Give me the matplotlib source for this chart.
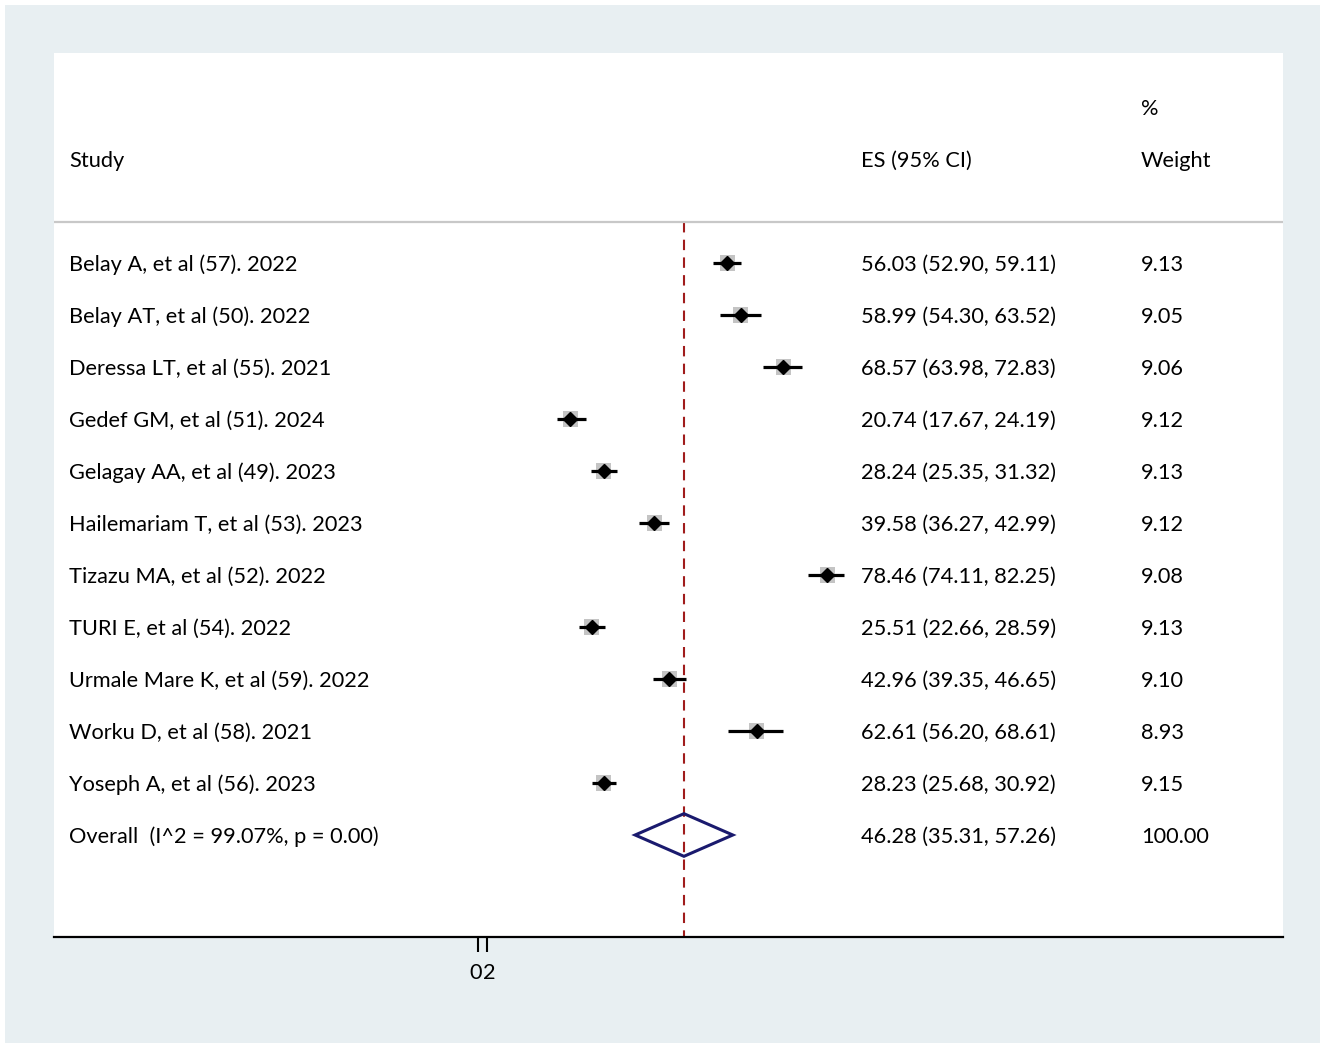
import matplotlib
matplotlib.use("Agg")
import matplotlib.pyplot as plt
from matplotlib.patches import Rectangle, Polygon
from matplotlib.transforms import ScaledTranslation

studies = ["Belay A, et al (57). 2022", "Belay AT, et al (50). 2022", "Deressa LT, et al (55). 2021",
           "Gedef GM, et al (51). 2024", "Gelagay AA, et al (49). 2023", "Hailemariam T, et al (53). 2023",
           "Tizazu MA, et al (52). 2022", "TURI E, et al (54). 2022", "Urmale Mare K, et al (59). 2022",
           "Worku D, et al (58). 2021", "Yoseph A, et al (56). 2023"]
es = [56.03, 58.99, 68.57, 20.74, 28.24, 39.58, 78.46, 25.51, 42.96, 62.61, 28.23]
lo = [52.90, 54.30, 63.98, 17.67, 25.35, 36.27, 74.11, 22.66, 39.35, 56.20, 25.68]
hi = [59.11, 63.52, 72.83, 24.19, 31.32, 42.99, 82.25, 28.59, 46.65, 68.61, 30.92]
weights = [9.13, 9.05, 9.06, 9.12, 9.13, 9.12, 9.08, 9.13, 9.10, 8.93, 9.15]
overall_label = "Overall  (I^2 = 99.07%, p = 0.00)"
overall_es, overall_lo, overall_hi, overall_w = 46.28, 35.31, 57.26, 100.00
xticks = [0, 2]

W, H = 1325, 1048
plt.rcParams['font.family'] = ['Lato', 'DejaVu Sans']
fig = plt.figure(figsize=(W / 100, H / 100), dpi=100)
fig.patch.set_facecolor('white')
fig.add_artist(Rectangle((5 / W, 5 / H), 1315 / W, 1038 / H, transform=fig.transFigure,
                         facecolor='#e8eff2', edgecolor='none', zorder=-10))

left, right, top, bottom = 54, 1283, 53, 937
ax = fig.add_axes([left / W, (H - bottom) / H, (right - left) / W, (bottom - top) / H])
ax.set_facecolor('white')

x0, scale = 478.0, 4.45
ax.set_xlim((left - x0) / scale, (right - x0) / scale)
row0, rowh = 263.0, 52.0
ax.set_ylim((bottom - row0) / rowh, (top - row0) / rowh)

fs = 15.7
for s in ['top', 'left', 'right']:
    ax.spines[s].set_visible(False)
ax.spines['bottom'].set_linewidth(1.6)
ax.set_yticks([])
ax.set_xticks(xticks)
ax.set_xticklabels([str(t) for t in xticks])
ax.tick_params(axis='x', length=11, width=1.5, pad=8, labelsize=fs)
for lab, dx in zip(ax.get_xticklabels(), [-1.5, 1.5]):
    lab.set_transform(lab.get_transform() + ScaledTranslation(dx / 72, 0, fig.dpi_scale_trans))

tx = ax.get_yaxis_transform()  # x in axes coords, y in data
col_study = (69 - left) / (right - left)
col_es = (861 - left) / (right - left)
col_w = (1141 - left) / (right - left)
dy = 0.035

ax.text(col_study, -2 + dy, "Study", transform=tx, va='center', ha='left', fontsize=fs)
ax.text(col_es, -2 + dy, "ES (95% CI)", transform=tx, va='center', ha='left', fontsize=fs)
ax.text(col_w, -3 + dy, "%", transform=tx, va='center', ha='left', fontsize=fs)
ax.text(col_w, -2 + dy, "Weight", transform=tx, va='center', ha='left', fontsize=fs)
ax.axhline((222 - row0) / rowh, color='#c8c8c8', lw=1.6)

for i, (name, e, l, h, w) in enumerate(zip(studies, es, lo, hi, weights)):
    ax.add_patch(Rectangle((e - 1.7, i - 0.145), 3.4, 0.29, facecolor='#c4c4c4', edgecolor='none', zorder=2))
    ax.plot([l, h], [i, i], color='black', lw=2.3, solid_capstyle='butt', zorder=3)
    ax.plot([e], [i], marker='D', color='black', markersize=7.5, zorder=4)
    ax.text(col_study, i + dy, name, transform=tx, va='center', ha='left', fontsize=fs)
    ax.text(col_es, i + dy, f"{e:.2f} ({l:.2f}, {h:.2f})", transform=tx, va='center', ha='left', fontsize=fs)
    ax.text(col_w, i + dy, f"{w:.2f}", transform=tx, va='center', ha='left', fontsize=fs)

n = len(studies)
ax.add_patch(Polygon([[overall_lo, n], [overall_es, n - 0.41], [overall_hi, n], [overall_es, n + 0.41]],
                     closed=True, facecolor='none', edgecolor='#1a1a6e', lw=2.2, zorder=4))
ax.text(col_study, n + dy, overall_label, transform=tx, va='center', ha='left', fontsize=fs)
ax.text(col_es, n + dy, f"{overall_es:.2f} ({overall_lo:.2f}, {overall_hi:.2f})", transform=tx, va='center', ha='left', fontsize=fs)
ax.text(col_w, n + dy, f"{overall_w:.2f}", transform=tx, va='center', ha='left', fontsize=fs)

ax.plot([overall_es, overall_es], [(222 - row0) / rowh, (bottom - row0) / rowh], color='#a01c1c',
        lw=1.5, linestyle=(0, (5, 3.5)), zorder=1)

fig.savefig("out.png", dpi=100)
